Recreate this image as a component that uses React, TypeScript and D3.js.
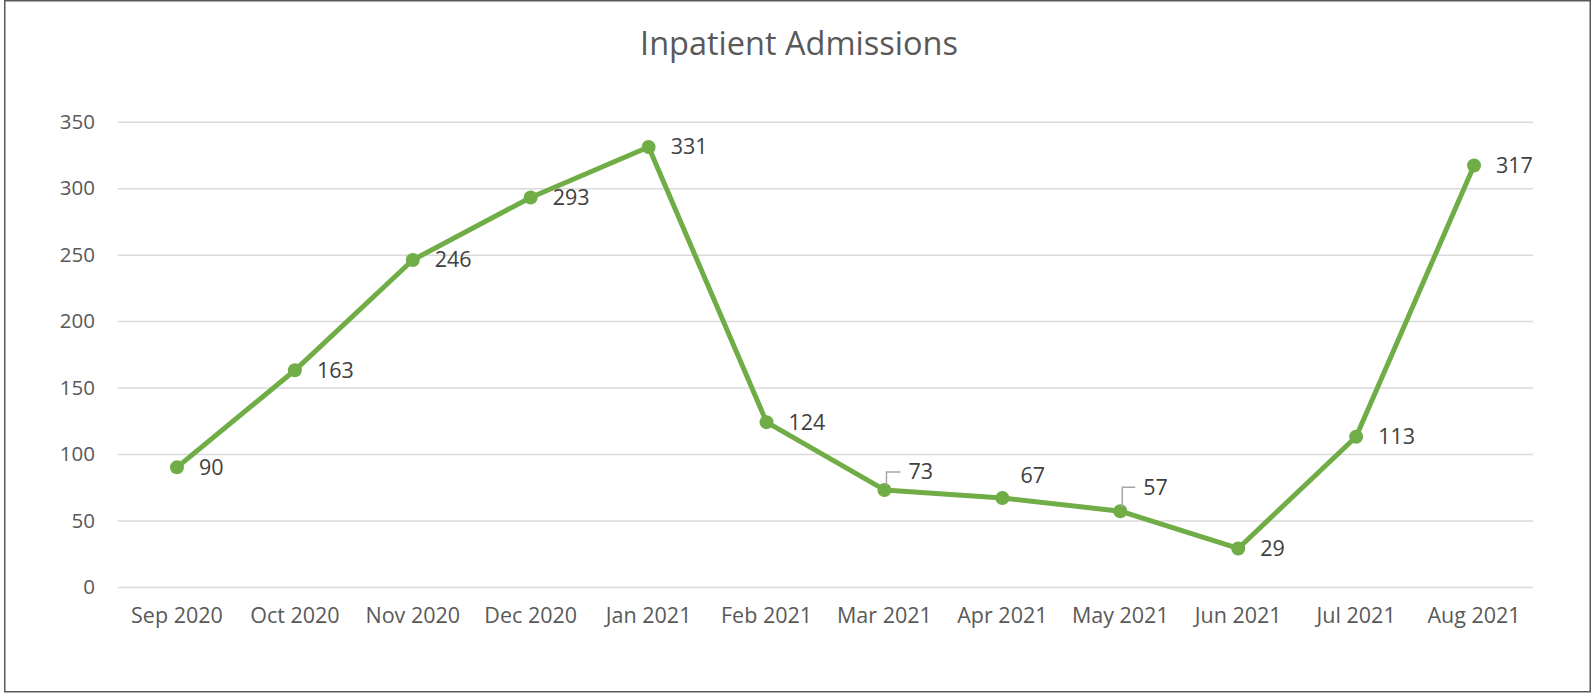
import { useEffect, useRef } from 'react';
import * as d3 from 'd3';

const months = ['Sep 2020', 'Oct 2020', 'Nov 2020', 'Dec 2020', 'Jan 2021', 'Feb 2021',
    'Mar 2021', 'Apr 2021', 'May 2021', 'Jun 2021', 'Jul 2021', 'Aug 2021'];
const admissions = [90, 163, 246, 293, 331, 124, 73, 67, 57, 29, 113, 317];
const yTicks = [0, 50, 100, 150, 200, 250, 300, 350];

const chartTitle = 'Inpatient Admissions';

export default function App() {
    const svgRef = useRef<SVGSVGElement>(null);

    useEffect(() => {
        if (!svgRef.current) return;
        document.body.style.margin = '0';

        const width = 1595;
        const height = 693;
        const margin = { top: 121.7, right: 62, bottom: 106, left: 118 };
        const font = '"Open Sans", "Noto Sans", sans-serif';
        const green = '#70ad47';

        const svg = d3.select(svgRef.current);
        svg.selectAll('*').remove();
        svg.attr('width', width).attr('height', height);

        svg.append('rect')
            .attr('width', width).attr('height', height)
            .attr('fill', '#fff');

        // outer border of the chart area
        svg.append('rect')
            .attr('x', 4.75).attr('y', 0.75)
            .attr('width', 1585.5).attr('height', 691)
            .attr('fill', 'none')
            .attr('stroke', '#595959')
            .attr('stroke-width', 1.5);

        svg.append('text')
            .attr('x', 799)
            .attr('y', 55)
            .attr('text-anchor', 'middle')
            .style('font-family', font)
            .style('font-size', '32.5px')
            .style('fill', '#595959')
            .text(chartTitle);

        const x = d3.scaleBand()
            .domain(months)
            .range([margin.left, width - margin.right]);

        const y = d3.scaleLinear()
            .domain([0, 350])
            .range([height - margin.bottom, margin.top]);

        // gridlines + y labels
        const yAxis = svg.append('g')
            .attr('transform', `translate(${margin.left},0)`)
            .call(d3.axisLeft(y)
                .tickValues(yTicks)
                .tickSize(-(width - margin.right - margin.left))
                .tickPadding(23));
        yAxis.select('.domain').remove();
        yAxis.selectAll('.tick line')
            .attr('stroke', '#d9d9d9')
            .attr('stroke-width', 1.5);
        yAxis.selectAll('.tick text')
            .style('font-family', font)
            .style('font-size', '20.5px')
            .style('fill', '#595959');

        // x labels
        const xAxis = svg.append('g')
            .attr('transform', `translate(0,${height - margin.bottom})`)
            .call(d3.axisBottom(x).tickSize(0).tickPadding(21));
        xAxis.select('.domain').remove();
        xAxis.selectAll('.tick text')
            .style('font-family', font)
            .style('font-size', '21.5px')
            .style('fill', '#595959');

        const px = (i: number) => (x(months[i]) as number) + x.bandwidth() / 2;

        const line = d3.line<number>()
            .x((_, i) => px(i))
            .y(d => y(d));

        svg.append('path')
            .datum(admissions)
            .attr('d', line)
            .attr('fill', 'none')
            .attr('stroke', green)
            .attr('stroke-width', 5)
            .attr('stroke-linejoin', 'round');

        svg.selectAll('circle.pt')
            .data(admissions)
            .enter()
            .append('circle')
            .attr('class', 'pt')
            .attr('cx', (_, i) => px(i))
            .attr('cy', d => y(d))
            .attr('r', 7)
            .attr('fill', green);

        // label placement tweaks (Excel moved a few labels by hand)
        const labelShift: Record<number, { dx: number; dy: number; leader?: boolean }> = {
            6: { dx: 24, dy: -18, leader: true },
            7: { dx: 18, dy: -22 },
            8: { dx: 23, dy: -24, leader: true },
        };

        admissions.forEach((d, i) => {
            const cx = px(i);
            const cy = y(d);
            const s = labelShift[i] || { dx: 22, dy: 0 };
            if (s.leader) {
                svg.append('path')
                    .attr('d', `M${cx + 2},${cy - 4}V${cy + s.dy}H${cx + s.dx - 8}`)
                    .attr('fill', 'none')
                    .attr('stroke', '#a6a6a6')
                    .attr('stroke-width', 1.5);
            }
            svg.append('text')
                .attr('x', cx + s.dx)
                .attr('y', cy + s.dy)
                .attr('dy', '0.35em')
                .style('font-family', font)
                .style('font-size', '21.5px')
                .style('fill', '#404040')
                .text(d);
        });
    }, []);

    return (
        <div>
            <svg ref={svgRef} style={{ display: 'block' }}></svg>
        </div>
    );
}
